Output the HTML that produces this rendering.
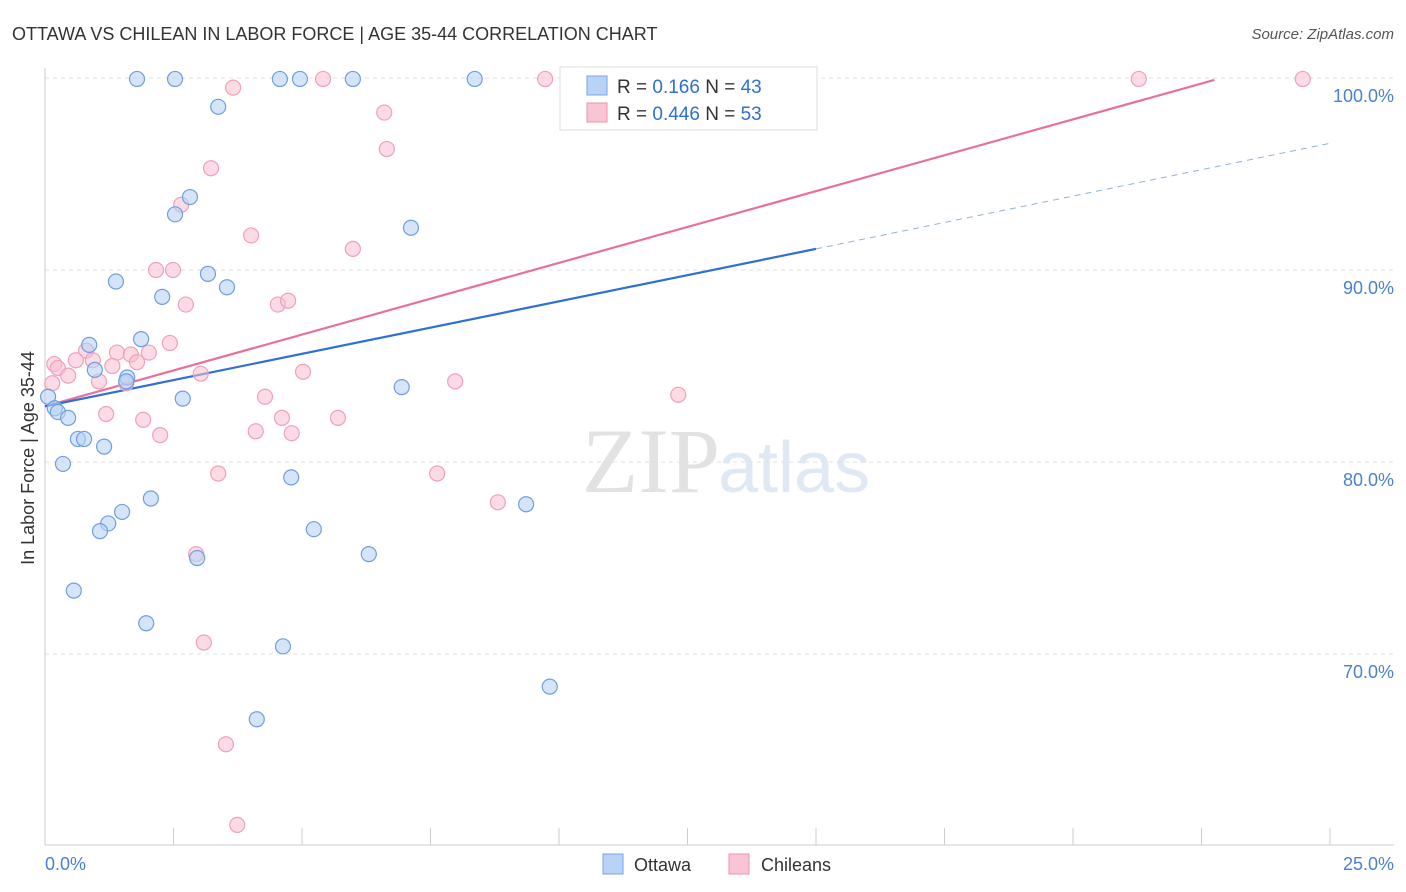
<!DOCTYPE html>
<html><head><meta charset="utf-8"><style>
body{margin:0;background:#fff;font-family:"Liberation Sans",sans-serif;}
svg{display:block}
</style></head><body>
<svg id="chart" width="1406" height="892">
<text x="12" y="40" font-size="18" fill="#333">OTTAWA VS CHILEAN IN LABOR FORCE | AGE 35-44 CORRELATION CHART</text>
<text x="1394" y="39" font-size="15" fill="#555" font-style="italic" text-anchor="end">Source: ZipAtlas.com</text>
<text x="720" y="492" font-size="92" fill="#e2e2e2" text-anchor="end" font-family="Liberation Serif">ZIP</text>
<text x="718" y="492" font-size="72" fill="#dfe8f5">atlas</text>
<g id="grid"></g><g id="axes"></g><g id="lines"></g><g id="points"></g>
<text transform="translate(34,458) rotate(-90)" font-size="18" fill="#333" text-anchor="middle">In Labor Force | Age 35-44</text>
<text x="45" y="870" font-size="18" fill="#4a7fd4">0.0%</text>
<text x="1394" y="870" font-size="18" fill="#4a7fd4" text-anchor="end">25.0%</text>
<g>
<rect x="560" y="67" width="257" height="63" fill="#fff" stroke="#ddd"/>
<rect x="587" y="76" width="20" height="19" fill="#b8d3f5" stroke="#7aa6e6"/>
<rect x="587" y="103" width="20" height="19" fill="#f9c5d5" stroke="#ee90ae"/>
<text x="617" y="93" font-size="19" fill="#333">R = <tspan fill="#2f6fd6"> 0.166</tspan>   N = <tspan fill="#2f6fd6">43</tspan></text>
<text x="617" y="120" font-size="19" fill="#333">R = <tspan fill="#2f6fd6">0.446</tspan>   N = <tspan fill="#2f6fd6">53</tspan></text>
</g>
<g>
<rect x="603" y="854" width="20" height="20" fill="#b8d3f5" stroke="#7aa6e6"/>
<text x="634" y="871" font-size="18" fill="#333">Ottawa</text>
<rect x="729" y="854" width="20" height="20" fill="#f9c5d5" stroke="#ee90ae"/>
<text x="761" y="871" font-size="18" fill="#333">Chileans</text>
</g>
</svg>
<script>
const yTicks=[70,80,90,100];
const yTickLabels=["70.0%","80.0%","90.0%","100.0%"];
const xTicks=[0,2.5,5,7.5,10,12.5,15,17.5,20,22.5,25];
const ottawaX=[1.79,2.53,4.57,4.96,5.99,8.36,3.37,2.82,2.53,7.12,3.17,1.38,3.54,2.28,1.87,0.86,0.97,1.6,1.58,6.94,2.68,0.06,0.19,0.25,0.45,0.64,0.76,1.15,0.35,4.79,2.06,9.36,1.5,1.23,1.07,5.23,6.3,2.96,0.56,1.97,4.63,9.82,4.12,11.5];
const ottawaY=[99.95,99.95,99.95,99.95,99.95,99.95,98.5,93.8,92.9,92.2,89.8,89.4,89.1,88.6,86.4,86.1,84.8,84.4,84.2,83.9,83.3,83.4,82.8,82.6,82.3,81.2,81.2,80.8,79.9,79.2,78.1,77.8,77.4,76.8,76.4,76.5,75.2,75,73.3,71.6,70.4,68.3,66.6,99.95];
const chileX=[9.73,5.41,14.1,21.28,24.47,3.66,6.6,6.65,3.23,2.65,4.01,5.99,2.16,2.49,2.74,4.53,4.73,2.43,0.8,1.4,1.67,2.02,0.18,0.25,0.6,0.93,1.79,1.31,0.45,3.03,5.02,1.05,7.98,1.58,12.32,4.28,1.19,1.91,5.7,4.61,4.1,4.8,2.24,3.37,7.63,8.81,2.94,3.09,3.52,3.74,0.14];
const chileY=[99.95,99.95,99.95,99.95,99.95,99.5,98.2,96.3,95.3,93.4,91.8,91.1,90,90,88.2,88.2,88.4,86.2,85.8,85.7,85.6,85.7,85.1,84.9,85.3,85.3,85.2,85,84.5,84.6,84.7,84.2,84.2,84.1,83.5,83.4,82.5,82.2,82.3,82.3,81.6,81.5,81.4,79.4,79.4,77.9,75.2,70.6,65.3,61.1,84.1];
const ottawaLine=[[0,82.9],[15,91.1]];
const ottawaDash=[[15,91.1],[25,96.6]];
const chileLine=[[0,82.9],[22.75,99.9]];
const X=v=>45+v*51.4, Y=v=>78+(100-v)*19.2;
const NS="http://www.w3.org/2000/svg";
function mk(tag,attrs,parent){const e=document.createElementNS(NS,tag);for(const k in attrs)e.setAttribute(k,attrs[k]);document.getElementById(parent).appendChild(e);return e;}
yTicks.forEach((t,i)=>{
 const g=mk('line',{x1:45,x2:1394,y1:Y(t),y2:Y(t),stroke:'#e0e0e0','stroke-dasharray':'4,4'},'grid');
 
 
 const l=mk('text',{x:1394,y:Y(t)+24,'font-size':18,fill:'#4a7fd4','text-anchor':'end'},'grid');
 l.textContent=yTickLabels[i];
 
 
});
const ax=mk('line',{x1:45,x2:45,y1:68,y2:845,stroke:'#ccc'},'axes');


const bx=mk('line',{x1:45,x2:1394,y1:845,y2:845,stroke:'#ccc'},'axes');


xTicks.forEach(t=>{const e=mk('line',{x1:X(t),x2:X(t),y1:828,y2:845,stroke:'#ccc'},'axes');
 
 });
function ln(p,color,dash,name){const e=mk('line',{x1:X(p[0][0]),y1:Y(p[0][1]),x2:X(p[1][0]),y2:Y(p[1][1]),stroke:color,'stroke-width':dash?1:2.2},'lines');
 if(dash)e.setAttribute('stroke-dasharray','6,5');
 
 }
ln(chileLine,'#e8709a',false,'chileans-trend-line');
ln(ottawaLine,'#2f6fd6',false,'ottawa-trend-line');
ln(ottawaDash,'#8fb0e0',true,'ottawa-trend-extension');
function pts(xs,ys,fill,stroke,name){xs.forEach((x,i)=>{const c=mk('circle',{cx:X(x),cy:Y(ys[i]),r:7.5,fill:fill,stroke:stroke,'stroke-width':1.2},'points');
 
 });}
pts(chileX,chileY,'rgba(249,190,208,0.55)','#f0a0bb','chileans-point');
pts(ottawaX,ottawaY,'rgba(184,211,245,0.6)','#6f9ee0','ottawa-point');
</script>
</body></html>
